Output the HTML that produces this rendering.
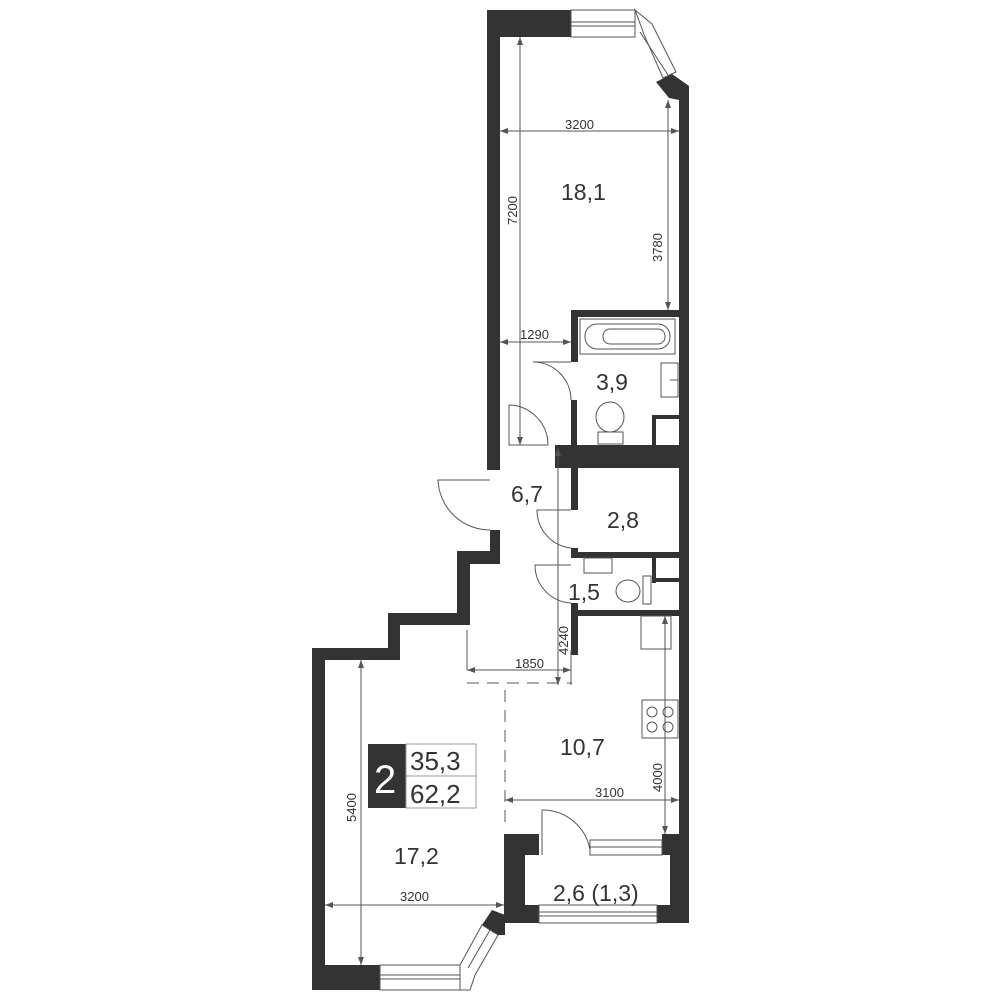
<!DOCTYPE html>
<html><head><meta charset="utf-8"><style>
html,body{margin:0;padding:0;background:#fff}
svg{display:block}
text{font-family:"Liberation Sans",sans-serif;fill:#333}
</style></head><body>
<svg width="1000" height="1000" viewBox="0 0 1000 1000" xmlns="http://www.w3.org/2000/svg">
<defs>
<marker id="a" markerWidth="8" markerHeight="6" refX="8" refY="3" orient="auto-start-reverse" markerUnits="userSpaceOnUse"><path d="M0,0 L8,3 L0,6 z" fill="#555"/></marker>
</defs>
<g fill="#333">
<rect x="487" y="10" width="84" height="27"/>
<rect x="487" y="10" width="13" height="460"/>
<polygon points="656,82 672,74 689,86 689,100 679,100 669,98"/>
<rect x="679" y="86" width="10" height="750"/>
<rect x="571" y="310" width="110" height="7"/>
<rect x="571" y="310" width="7" height="52"/>
<rect x="571" y="400" width="6" height="48"/>
<rect x="555" y="445" width="134" height="23"/>
<rect x="652" y="415" width="28" height="4"/>
<rect x="652" y="415" width="4" height="30"/>
<rect x="571" y="445" width="7" height="65"/>
<rect x="571" y="548" width="7" height="10"/>
<rect x="571" y="552" width="110" height="6"/>
<rect x="652" y="558" width="4" height="25"/>
<rect x="652" y="578" width="28" height="4"/>
<rect x="571" y="603" width="7" height="52"/>
<rect x="571" y="610" width="110" height="6"/>
<rect x="490" y="530" width="10" height="27"/>
<rect x="457" y="551" width="43" height="13"/>
<rect x="457" y="551" width="13" height="74"/>
<rect x="388" y="613" width="82" height="12"/>
<rect x="388" y="613" width="12" height="45"/>
<rect x="312" y="648" width="88" height="12"/>
<rect x="312" y="648" width="13" height="342"/>
<rect x="312" y="965" width="68" height="25"/>
<polygon points="482,925 492,910 505,915 505,935 498,935"/>
<rect x="504" y="834" width="35" height="21"/>
<rect x="504" y="834" width="21" height="89"/>
<rect x="504" y="905" width="35" height="18"/>
<rect x="662" y="834" width="27" height="21"/>
<rect x="670" y="834" width="19" height="89"/>
<rect x="657" y="905" width="32" height="18"/>
</g>
<g fill="none" stroke="#555" stroke-width="1">
<rect x="571" y="10" width="64" height="27"/>
<line x1="571" y1="22" x2="635" y2="22"/><line x1="571" y1="26" x2="635" y2="26"/>
<polygon points="635,10 645,37 663,78 676,72 652,24"/>
<line x1="640" y1="32" x2="668" y2="75"/>
<rect x="380" y="965" width="80" height="25"/>
<line x1="380" y1="975" x2="460" y2="975"/><line x1="380" y1="979" x2="460" y2="979"/>
<polygon points="460,965 482,925 498,935 475,975 470,990 460,990"/>
<line x1="468" y1="968" x2="490" y2="930"/>
<rect x="539" y="905" width="118" height="18"/>
<line x1="539" y1="912" x2="657" y2="912"/><line x1="539" y1="916" x2="657" y2="916"/>
<rect x="590" y="840" width="72" height="15"/>
<line x1="590" y1="847" x2="662" y2="847"/>
<path d="M571,362 L533,362 A38,38 0 0 1 571,400"/>
<path d="M509,405 L509,445 L548,445 A40,40 0 0 0 509,405"/>
<path d="M490,480 L438,480 A52,52 0 0 0 490,530"/>
<path d="M571,510 L537,510 A38,38 0 0 0 571,548"/>
<path d="M571,565 L535,565 A38,38 0 0 0 571,603"/>
<path d="M542,810 L542,855 M542,810 A48,48 0 0 1 590,850"/>
<rect x="580" y="319" width="95" height="35"/><rect x="585" y="324" width="85" height="25" rx="12"/>
<rect x="603" y="329" width="62" height="15" rx="7"/>
<rect x="661" y="363" width="17" height="34"/><line x1="670" y1="380" x2="678" y2="380"/>
<ellipse cx="610" cy="417" rx="14" ry="15"/><rect x="598" y="432" width="25" height="12"/>
<rect x="584" y="558" width="28" height="15"/>
<ellipse cx="628" cy="591" rx="12" ry="11"/><rect x="643" y="576" width="8" height="28"/>
<rect x="641" y="616" width="30" height="33"/>
<rect x="642" y="700" width="36" height="38"/>
<circle cx="652" cy="712" r="5"/><circle cx="668" cy="712" r="5"/><circle cx="652" cy="727" r="5"/><circle cx="668" cy="727" r="5"/>
<line x1="467" y1="683" x2="572" y2="683" stroke-dasharray="12,8"/>
<line x1="505" y1="690" x2="505" y2="825" stroke-dasharray="12,8"/>
<line x1="571" y1="650" x2="571" y2="685"/><line x1="467" y1="630" x2="467" y2="670"/>
</g>
<g fill="none" stroke="#555" stroke-width="1" marker-start="url(#a)" marker-end="url(#a)">
<line x1="500" y1="131" x2="679" y2="131"/>
<line x1="520" y1="37" x2="520" y2="445"/>
<line x1="668" y1="100" x2="668" y2="310"/>
<line x1="500" y1="342" x2="571" y2="342"/>
<line x1="558" y1="448" x2="558" y2="685"/>
<line x1="467" y1="670" x2="571" y2="670"/>
<line x1="505" y1="800" x2="679" y2="800"/>
<line x1="665" y1="616" x2="665" y2="834"/>
<line x1="361" y1="660" x2="361" y2="965"/>
<line x1="325" y1="905" x2="504" y2="905"/>
</g>
<g font-size="13">
<text x="565" y="129">3200</text>
<text x="520" y="339">1290</text>
<text x="515" y="668">1850</text>
<text x="595" y="797">3100</text>
<text x="400" y="901">3200</text>
<text transform="translate(517,225) rotate(-90)">7200</text>
<text transform="translate(662,262) rotate(-90)">3780</text>
<text transform="translate(568,655) rotate(-90)">4240</text>
<text transform="translate(662,792) rotate(-90)">4000</text>
<text transform="translate(356,822) rotate(-90)">5400</text>
</g>
<g font-size="23">
<text x="561" y="200">18,1</text>
<text x="596" y="390">3,9</text>
<text x="511" y="502">6,7</text>
<text x="607" y="528">2,8</text>
<text x="568" y="600">1,5</text>
<text x="560" y="755">10,7</text>
<text x="394" y="864">17,2</text>
<text x="553" y="901">2,6 (1,3)</text>
</g>
<rect x="368" y="744" width="38" height="64" fill="#333"/>
<rect x="406" y="744" width="70" height="64" fill="none" stroke="#999" stroke-width="1"/>
<line x1="406" y1="776" x2="476" y2="776" stroke="#999"/>
<text x="374" y="793" font-size="40" style="fill:#fff">2</text>
<text x="410" y="770" font-size="26">35,3</text>
<text x="410" y="803" font-size="26">62,2</text>
</svg>
</body></html>
